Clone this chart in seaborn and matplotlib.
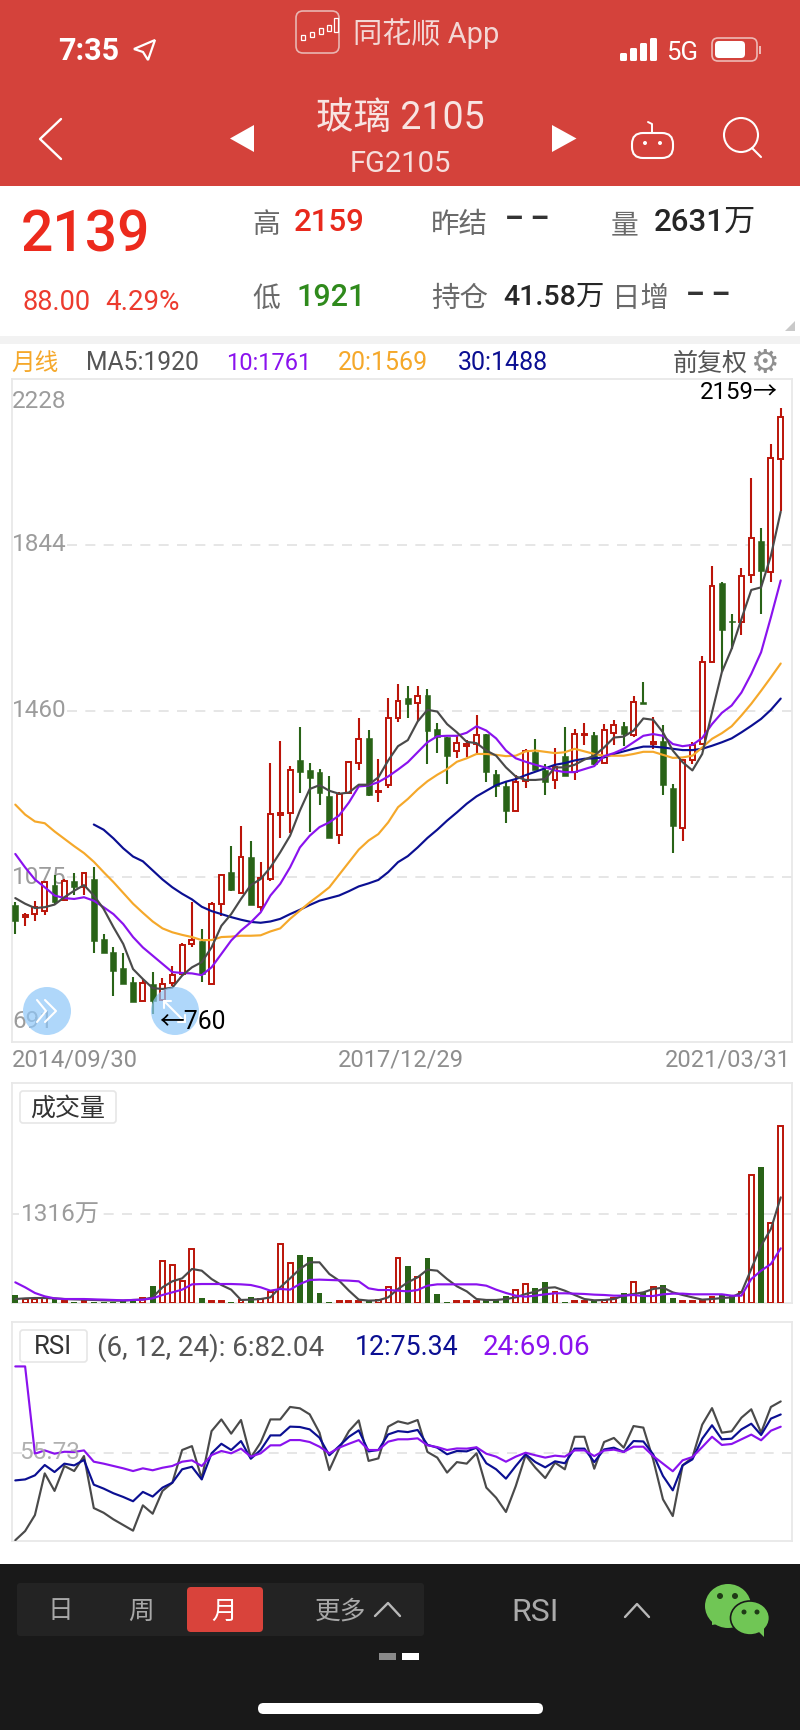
#Monthly candles for the glass contract, drawn as the phone screen shows them

import numpy as np
import pandas as pd
import seaborn as sns
import matplotlib.pyplot as plt
from matplotlib.patches import Rectangle, FancyBboxPatch, Polygon, Circle, Ellipse

open_ = [1011, 983, 990, 998, 1057, 1023, 1067, 1052, 1070, 933, 902, 865, 833, 789, 829, 792, 830, 852, 920, 927,
	829, 1014, 1088, 1039, 1121, 1007, 1071, 1220, 1224, 1345, 1322, 1318, 1264, 1173, 1270, 1339, 1398, 1272, 1288, 1442,
	1489, 1478, 1496, 1418, 1400, 1366, 1379, 1383, 1405, 1314, 1286, 1228, 1298, 1364, 1322, 1299, 1355, 1319, 1403, 1404,
	1339, 1409, 1425, 1404, 1480, 1383, 1391, 1282, 1188, 1345, 1383, 1573, 1755, 1667, 1664, 1774, 1851, 1780, 2041]
high = [1017, 993, 1021, 1065, 1080, 1071, 1084, 1087, 1098, 943, 913, 899, 845, 839, 857, 843, 871, 923, 1019, 956,
	1017, 1082, 1147, 1194, 1159, 1110, 1339, 1390, 1333, 1423, 1339, 1325, 1308, 1271, 1343, 1444, 1416, 1348, 1490, 1522,
	1516, 1518, 1509, 1432, 1400, 1404, 1393, 1449, 1406, 1323, 1295, 1311, 1372, 1395, 1337, 1373, 1422, 1418, 1432, 1410,
	1430, 1439, 1435, 1495, 1526, 1445, 1428, 1290, 1348, 1388, 1587, 1794, 1757, 1683, 1790, 1998, 1881, 2077, 2159]
low = [944, 962, 975, 987, 1014, 1020, 1033, 1033, 900, 899, 800, 829, 788, 789, 760, 790, 825, 850, 913, 833,
	829, 985, 1044, 1039, 1011, 998, 1067, 1167, 1178, 1270, 1179, 1243, 1165, 1151, 1270, 1322, 1264, 1250, 1282, 1433,
	1442, 1437, 1337, 1362, 1291, 1351, 1352, 1362, 1296, 1261, 1201, 1228, 1282, 1324, 1266, 1278, 1310, 1301, 1381, 1335,
	1339, 1381, 1379, 1400, 1475, 1372, 1265, 1131, 1158, 1337, 1381, 1572, 1549, 1603, 1636, 1754, 1683, 1757, 1921]
close = [975, 987, 1006, 1064, 1017, 1067, 1053, 1084, 927, 899, 859, 829, 788, 831, 790, 829, 850, 919, 930, 852,
	1014, 1081, 1046, 1121, 1011, 1074, 1221, 1223, 1324, 1318, 1305, 1269, 1165, 1268, 1342, 1395, 1265, 1274, 1444, 1482,
	1475, 1495, 1414, 1400, 1356, 1385, 1382, 1404, 1318, 1287, 1228, 1295, 1368, 1324, 1295, 1329, 1310, 1405, 1406, 1337,
	1415, 1428, 1406, 1479, 1476, 1387, 1288, 1194, 1346, 1381, 1573, 1747, 1646, 1664, 1771, 1858, 1783, 2044, 2139]

ma5 = [1027, 1014, 1004, 1006, 1012, 1029, 1044, 1057, 1033, 1002, 960, 921, 863, 840, 819, 817, 820, 848, 867, 879,
	913, 963, 990, 1025, 1057, 1071, 1098, 1133, 1171, 1229, 1279, 1288, 1275, 1268, 1271, 1289, 1289, 1306, 1345, 1378,
	1392, 1435, 1462, 1458, 1429, 1410, 1388, 1385, 1368, 1356, 1329, 1308, 1300, 1300, 1302, 1329, 1329, 1335, 1347, 1356,
	1375, 1398, 1400, 1414, 1442, 1439, 1410, 1368, 1341, 1322, 1360, 1456, 1549, 1603, 1672, 1739, 1745, 1818, 1920]
ma10 = [1129, 1098, 1070, 1052, 1033, 1027, 1025, 1029, 1021, 1006, 990, 967, 937, 913, 894, 875, 856, 854, 853, 849,
	867, 898, 929, 952, 971, 994, 1033, 1060, 1098, 1144, 1171, 1191, 1202, 1218, 1248, 1285, 1287, 1295, 1308, 1324,
	1341, 1364, 1387, 1401, 1402, 1402, 1409, 1424, 1414, 1396, 1368, 1350, 1342, 1335, 1329, 1322, 1318, 1318, 1325, 1332,
	1355, 1362, 1372, 1387, 1402, 1406, 1402, 1383, 1378, 1381, 1397, 1429, 1455, 1472, 1502, 1545, 1595, 1676, 1761]
ma20 = [1243, 1220, 1204, 1200, 1181, 1164, 1147, 1131, 1111, 1087, 1064, 1039, 1014, 993, 973, 957, 948, 942, 937, 930,
	930, 937, 938, 940, 940, 941, 950, 957, 979, 998, 1017, 1034, 1052, 1081, 1110, 1139, 1160, 1175, 1202, 1237,
	1256, 1278, 1297, 1312, 1325, 1342, 1350, 1360, 1360, 1358, 1355, 1356, 1366, 1368, 1365, 1362, 1364, 1372, 1366, 1360,
	1356, 1356, 1356, 1360, 1365, 1365, 1358, 1351, 1352, 1356, 1375, 1395, 1408, 1424, 1449, 1476, 1506, 1537, 1569]
ma30 = [np.nan] * 8 + [1197, 1185, 1165, 1142, 1123, 1112, 1091, 1070, 1052, 1037, 1024, 1007,
	997, 990, 983, 977, 972, 970, 973, 979, 990, 1000, 1011, 1021, 1027, 1033, 1043, 1054, 1061, 1069, 1087, 1110,
	1124, 1144, 1166, 1185, 1206, 1225, 1245, 1262, 1275, 1288, 1296, 1302, 1311, 1319, 1327, 1335, 1339, 1345, 1349, 1350,
	1352, 1360, 1366, 1372, 1377, 1377, 1375, 1372, 1369, 1369, 1372, 1379, 1387, 1396, 1410, 1425, 1441, 1462, 1488]

# volume in units of 10k lots
vol = [119, 59, 59, 69, 69, 35, 20, 25, 15, 15, 15, 40, 40, 79, 248, 629, 564, 332, 807, 74,
	25, 25, 10, 45, 84, 59, 158, 871, 599, 718, 683, 149, 10, 25, 25, 35, 45, 45, 233, 663,
	554, 381, 668, 134, 20, 25, 25, 35, 50, 59, 99, 193, 277, 218, 307, 158, 15, 25, 25, 50,
	50, 79, 144, 317, 168, 238, 262, 74, 25, 25, 25, 89, 134, 99, 168, 1901, 2025, 1183, 2631]
vol_ma5 = [59, 69, 74, 74, 69, 59, 54, 50, 45, 40, 35, 35, 45, 50, 84, 233, 322, 366, 505, 480,
	356, 267, 198, 45, 50, 59, 84, 233, 366, 505, 604, 604, 431, 332, 183, 50, 35, 40, 84, 208,
	307, 381, 495, 480, 356, 248, 173, 59, 45, 45, 59, 84, 134, 168, 223, 233, 183, 119, 59, 40,
	45, 59, 109, 134, 158, 208, 228, 158, 119, 84, 50, 59, 74, 84, 158, 505, 851, 1099, 1569]
vol_ma10 = [307, 233, 149, 99, 69, 59, 59, 59, 54, 50, 45, 40, 45, 50, 69, 119, 158, 198, 277, 282,
	282, 282, 282, 277, 267, 233, 183, 208, 198, 282, 342, 347, 342, 337, 332, 322, 218, 193, 193, 183,
	173, 193, 257, 277, 277, 277, 277, 277, 257, 198, 149, 109, 94, 109, 129, 144, 144, 139, 134, 124,
	119, 109, 109, 119, 104, 104, 129, 139, 139, 129, 129, 129, 129, 109, 109, 356, 480, 579, 812]

rsi6 = [10.8, 15.5, 23.7, 45.1, 36.1, 48.9, 46.3, 54.0, 27.3, 24.9, 21.5, 18.6, 15.7, 28.7, 24.4, 36.1, 40.3, 57.1, 59.1, 42.4,
	66.8, 72.8, 65.5, 72.5, 53.2, 60.9, 72.8, 72.8, 79.2, 78.5, 75.4, 66.0, 46.8, 57.9, 66.8, 72.3, 51.5, 52.8, 69.1, 71.8,
	70.6, 72.5, 56.1, 53.2, 45.5, 50.9, 50.1, 55.4, 37.8, 32.6, 25.3, 38.6, 54.4, 48.0, 42.7, 50.6, 47.2, 63.9, 63.9, 47.5,
	61.2, 63.3, 58.3, 69.4, 68.6, 52.3, 31.8, 23.2, 49.2, 53.2, 70.1, 78.6, 66.0, 66.7, 73.7, 78.0, 66.0, 79.2, 82.04]
rsi12 = [41.5, 42.0, 44.1, 49.4, 45.8, 50.1, 49.2, 52.0, 39.3, 37.3, 34.9, 33.0, 30.8, 35.6, 33.2, 37.8, 40.3, 47.2, 48.5, 42.0,
	55.4, 60.3, 57.1, 61.7, 52.6, 57.1, 64.6, 64.6, 69.1, 68.9, 67.7, 63.4, 54.4, 59.1, 63.9, 67.2, 56.4, 57.1, 65.1, 66.8,
	66.3, 67.4, 59.8, 58.3, 54.9, 56.6, 56.4, 58.3, 50.3, 47.2, 42.4, 48.9, 54.9, 50.9, 48.2, 51.3, 50.3, 57.8, 57.8, 50.9,
	57.4, 58.3, 56.1, 61.7, 61.5, 54.9, 43.8, 36.4, 49.2, 52.3, 62.9, 69.8, 62.6, 62.9, 67.7, 70.6, 64.8, 73.2, 75.34]
rsi24 = [100, 100, 55.2, 56.9, 55.2, 56.2, 56.1, 56.9, 51.1, 50.1, 48.9, 47.7, 46.3, 47.7, 46.7, 48.0, 48.9, 51.1, 51.8, 48.9,
	54.5, 56.6, 55.4, 57.8, 53.7, 55.4, 59.5, 59.5, 62.2, 62.2, 61.2, 58.8, 55.4, 58.3, 60.3, 62.2, 57.1, 57.1, 61.4, 62.6,
	62.6, 63.1, 59.5, 58.6, 57.1, 57.9, 57.8, 58.5, 55.2, 53.7, 51.1, 53.7, 55.7, 54.4, 53.2, 54.2, 53.7, 56.9, 56.9, 54.0,
	56.8, 57.3, 56.1, 58.8, 58.8, 54.0, 50.1, 46.2, 51.8, 53.5, 58.6, 63.9, 59.7, 60.2, 62.6, 65.0, 62.1, 67.0, 69.06]

price_ticks = [2228, 1844, 1460, 1075, 691]
price_grid = [1844, 1460, 1075]
date_labels = ['2014/09/30', '2017/12/29', '2021/03/31']
legend_items = ['MA5:1920', '10:1761', '20:1569', '30:1488']

RED_CANDLE = '#bb1409'
GREEN_CANDLE = '#296317'
GRAY_LINE = '#4a4a4a'
PURPLE = '#8a12ee'
ORANGE = '#f5a82a'
NAVY = '#0b0f92'
HEADER = '#d4423b'
BORDER = '#e8e8e8'
TICK_GRAY = '#9c9c9c'

sns.set_theme(style='white')
plt.rcParams['font.family'] = ['Roboto', 'Noto Sans CJK SC', 'DejaVu Sans']

W, H = 800, 1731
fig = plt.figure(figsize=(W / 100, H / 100), dpi=100, facecolor='white')

df = pd.DataFrame({'i': np.arange(len(close)), 'open': open_, 'high': high, 'low': low, 'close': close,
	'ma5': ma5, 'ma10': ma10, 'ma20': ma20, 'ma30': ma30, 'vol': vol, 'vol_ma5': vol_ma5, 'vol_ma10': vol_ma10,
	'rsi6': rsi6, 'rsi12': rsi12, 'rsi24': rsi24})
df['up'] = df['close'] >= df['open']
up = df[df['up']]
down = df[~df['up']]
xlim = (-0.336, 79.15)

def panel(top, bottom, ylim):
	ax = fig.add_axes([12 / W, 1 - bottom / H, 780 / W, (bottom - top) / H])
	ax.set_xlim(*xlim)
	ax.set_ylim(*ylim)
	ax.set_xticks([])
	ax.set_yticks([])
	for s in ax.spines.values():
		s.set_color(BORDER)
		s.set_linewidth(1.3)
	return ax

def lines(ax, cols):
	for col, color in cols:
		sns.lineplot(data=df, x='i', y=col, ax=ax, color=color, lw=1.55, errorbar=None, zorder=5)
	ax.set(xlabel='', ylabel='')

def grid(ax, y):
	ax.axhline(y, color='#e2e2e2', lw=1.2, ls=(0, (6, 5)), zorder=1)

# main candles
ax = panel(380, 1043, (694.5, 2226.4))
for y in price_grid:
	grid(ax, y)
tick_pos = [2177, 1847, 1463, 1076, 745]
for label, y in zip(price_ticks, tick_pos):
	ax.text(-0.34, y, str(label), color=TICK_GRAY, fontsize=17.5, va='center', ha='left', zorder=1.5,
		bbox=dict(fc='white', ec='none', pad=0.5))
ax.vlines(up['i'], up['low'], up['high'], color=RED_CANDLE, lw=1.5, zorder=2)
ax.vlines(down['i'], down['low'], down['high'], color=GREEN_CANDLE, lw=1.5, zorder=2)
ax.bar(up['i'], up['close'] - up['open'], bottom=up['open'], width=0.5, facecolor='white', edgecolor=RED_CANDLE, lw=1.4, zorder=3)
ax.bar(down['i'], down['open'] - down['close'], bottom=down['close'], width=0.6, color=GREEN_CANDLE, lw=0.4, edgecolor=GREEN_CANDLE, zorder=3)
lines(ax, [('ma30', NAVY), ('ma20', ORANGE), ('ma10', PURPLE), ('ma5', GRAY_LINE)])
ax.set_xlim(*xlim)
ax.set_ylim(694.5, 2226.4)

# volume
ax2 = panel(1084, 1304, (0, 3267))
grid(ax2, 1316)
ax2.text(0.55, 1320, '1316万', color=TICK_GRAY, fontsize=17.5, va='center', ha='left', zorder=1.5,
	bbox=dict(fc='white', ec='none', pad=1))
sns.barplot(data=up, x='i', y='vol', ax=ax2, native_scale=True, width=0.5, color='white', saturation=1,
	edgecolor=RED_CANDLE, linewidth=1.4, errorbar=None, zorder=3)
sns.barplot(data=down, x='i', y='vol', ax=ax2, native_scale=True, width=0.6, color=GREEN_CANDLE, saturation=1,
	linewidth=0, errorbar=None, zorder=3)
lines(ax2, [('vol_ma5', GRAY_LINE), ('vol_ma10', PURPLE)])
ax2.set_xlim(*xlim)
ax2.set_ylim(0, 3267)
ax2.set_xticks([])
ax2.set_yticks([])

# rsi
ax3 = panel(1323, 1542, (10.4, 122.8))
grid(ax3, 55.73)
lines(ax3, [('rsi6', GRAY_LINE), ('rsi12', NAVY), ('rsi24', PURPLE)])
ax3.text(0.35, 56.1, '55.73', color='#a8a8a8', fontsize=17.5, va='center', ha='left', alpha=0.9, zorder=6)
ax3.set_xlim(*xlim)
ax3.set_ylim(10.4, 122.8)

# phone screen around the panels, in pixel coordinates
ui = fig.add_axes([0, 0, 1, 1], zorder=10)
ui.set_xlim(0, W)
ui.set_ylim(H, 0)
ui.axis('off')
ui.patch.set_alpha(0)

def t(x, y, s, size, color='#333333', ha='left', weight='normal', **kw):
	ui.text(x, y + 2.5, s, fontsize=size, color=color, ha=ha, va='center', fontweight=weight, **kw)

def box(x0, y0, x1, y1, r=0, **kw):
	if r:
		ui.add_patch(FancyBboxPatch((x0, y0), x1 - x0, y1 - y0, boxstyle='round,pad=0,rounding_size=%g' % r, **kw))
	else:
		ui.add_patch(Rectangle((x0, y0), x1 - x0, y1 - y0, **kw))

def stroke(xs, ys, color='white', lw=1.5):
	ui.plot(xs, ys, color=color, lw=lw, solid_capstyle='round')

box(0, 0, W, 187, color=HEADER, lw=0)
box(0, 337, W, 345, color='#f2f2f2', lw=0)
box(0, 1565, W, H, color='#191919', lw=0)

# status bar
t(58, 48, '7:35', 22, 'white', weight='bold')
ui.add_patch(Polygon([(134, 50), (155, 41), (148, 61), (143, 53)], closed=True, fc='none', ec='white', lw=1.6))
box(296, 12, 339, 54, r=7, fc=HEADER, ec='#e9b5b1', lw=1.2)
for px, y0, y1 in zip([303, 312, 321, 329, 336], [36, 33, 29, 26, 19], [41, 38, 35, 32, 33]):
	box(px - 2, y0, px + 2, y1, fc='none', ec='white', lw=0.9)
t(353, 31, '同花顺 App', 21, '#f3d7d5')
for k, h in enumerate([8, 13, 18, 23]):
	box(620 + k * 10, 62 - h, 627 + k * 10, 62, r=1.5, fc='white', ec='none')
t(666, 50, '5G', 18.5, 'white')
box(712, 39, 757, 62, r=6, fc='none', ec='#eeb9b5', lw=1.2)
box(715, 42, 745, 59, r=4, fc='white', ec='none')
box(759, 47, 761, 55, fc='#eeb9b5', ec='none')

# title bar
stroke([61, 40, 61], [120, 140, 160], lw=1.7)
ui.add_patch(Polygon([(254, 126), (230, 139.5), (254, 153)], closed=True, fc='white', ec='none'))
ui.add_patch(Polygon([(552, 126), (576.5, 139.5), (552, 153)], closed=True, fc='white', ec='none'))
t(400, 116, '玻璃 2105', 27, '#f8e4e2', ha='center')
t(400, 162, 'FG2105', 21, '#f6dedc', ha='center')
box(632, 134, 673, 159, r=11, fc='none', ec='white', lw=1.5)
stroke([652, 652, 648], [134, 125, 123], lw=1.4)
ui.add_patch(Circle((645, 144), 2, fc='white', ec='none'))
ui.add_patch(Circle((660, 144), 2, fc='white', ec='none'))
ui.add_patch(Circle((741, 136), 17, fc='none', ec='white', lw=1.5))
stroke([752, 761], [149, 158], lw=1.5)

# quote block
t(21, 233, '2139', 41, '#ec2a1d', weight='medium')
t(22, 300, '88.00', 19.5, '#ec3b2e')
t(105, 300, '4.29%', 20, '#ec3b2e')
t(252, 223, '高', 20, '#6a6a6a')
t(294, 220, '2159', 22.5, '#e8291c', weight='medium')
t(431, 223, '昨结', 20.5, '#6a6a6a')
t(505, 218, '– –', 21, '#333333', weight='bold')
t(611, 223, '量', 20, '#6a6a6a')
t(654, 220, '2631万', 22.5, '#262626', weight='medium')
t(252, 297, '低', 20, '#6a6a6a')
t(296, 295, '1921', 22, '#2f8a1c', weight='medium')
t(431, 297, '持仓', 20.5, '#6a6a6a')
t(503, 295, '41.58万', 20.5, '#262626', weight='medium')
t(612, 297, '日增', 20.5, '#6a6a6a')
t(686, 293, '– –', 21, '#333333', weight='bold')
ui.add_patch(Polygon([(795, 322), (795, 332), (785, 332)], closed=True, fc='#c9c9c9', ec='none'))

# ma legend row
t(11, 361, '月线', 17, ORANGE)
for x, label, color, size in zip([86, 226, 338, 458], legend_items, ['#555555', PURPLE, ORANGE, NAVY], [17.7, 17, 18, 18]):
	t(x, 361, label, size, color)
t(673, 361, '前复权', 18, '#555555')
t(765, 361, '⚙', 23, '#909090', ha='center')

# dates, marker labels and the two round buttons
t(12, 1058, date_labels[0], 17, '#8e8e8e')
t(401, 1058, date_labels[1], 17, '#8e8e8e', ha='center')
t(791, 1058, date_labels[2], 17, '#8e8e8e', ha='right')
t(778, 390, '2159→', 17.3, 'black', ha='right')
ui.add_patch(Circle((47, 1012), 24, fc='#8ec7f9', ec='none', alpha=0.7))
ui.add_patch(Circle((175, 1012), 24, fc='#8ec7f9', ec='none', alpha=0.7))
stroke([37, 46, 37], [1001, 1012, 1023], lw=1.5)
stroke([45, 56, 45], [1001, 1012, 1023], lw=1.5)
stroke([164, 185], [1002, 1023], lw=1.5)
stroke([164, 164, 171], [1009, 1002, 1002], lw=1.5)
stroke([185, 185, 178], [1016, 1023, 1023], lw=1.5)
t(159, 1020, '←760', 17.8, 'black')

# panel tags
box(20, 1092, 116, 1124, r=3, fc='white', ec='#e6e6e6', lw=1.2)
t(68, 1106, '成交量', 18, '#333333', ha='center')
box(20, 1331, 87, 1363, r=3, fc='white', ec='#e6e6e6', lw=1.2)
t(53, 1345, 'RSI', 18.5, '#333333', ha='center')
t(97, 1345, '(6, 12, 24): 6:82.04', 20, '#555555')
t(355, 1345, '12:75.34', 19.3, NAVY)
t(483, 1345, '24:69.06', 20, PURPLE)

# bottom toolbar
box(17, 1584, 424, 1637, r=3, fc='#232323', ec='none')
box(187, 1588, 263, 1633, r=4, fc='#d9433b', ec='none')
t(60, 1609, '日', 18.5, '#a8a8a8', ha='center')
t(141, 1609, '周', 18.5, '#a8a8a8', ha='center')
t(224, 1609, '月', 18.5, 'white', ha='center')
t(341, 1609, '更多', 18.5, '#a8a8a8', ha='center')
stroke([375, 388, 400], [1617, 1604, 1617], '#b8b8b8', 1.7)
t(535, 1610, 'RSI', 23, '#aaaaaa', ha='center')
stroke([625, 637, 649], [1618, 1605, 1618], '#b8b8b8', 1.7)
ui.add_patch(Ellipse((728, 1607), 46, 44, fc='#70c655', ec='none'))
ui.add_patch(Polygon([(712, 1620), (712, 1626), (724, 1624)], closed=True, fc='#70c655', ec='none'))
ui.add_patch(Ellipse((750, 1619), 39, 34, fc='#70c655', ec='#191919', lw=1.2))
ui.add_patch(Polygon([(758, 1632), (764, 1638), (764, 1628)], closed=True, fc='#70c655', ec='none'))
for ex, ey, er in [(720, 1597, 3), (735, 1597, 3), (744, 1613, 2.5), (757, 1613, 2.5)]:
	ui.add_patch(Circle((ex, ey), er, fc='#1f3a16', ec='none'))
box(379, 1654, 396, 1661, fc='#8a8a8a', ec='none')
box(402, 1654, 419, 1661, fc='white', ec='none')
box(258, 1704, 543, 1715, r=5.5, fc='white', ec='none')

fig.savefig('out.png', dpi=100)
